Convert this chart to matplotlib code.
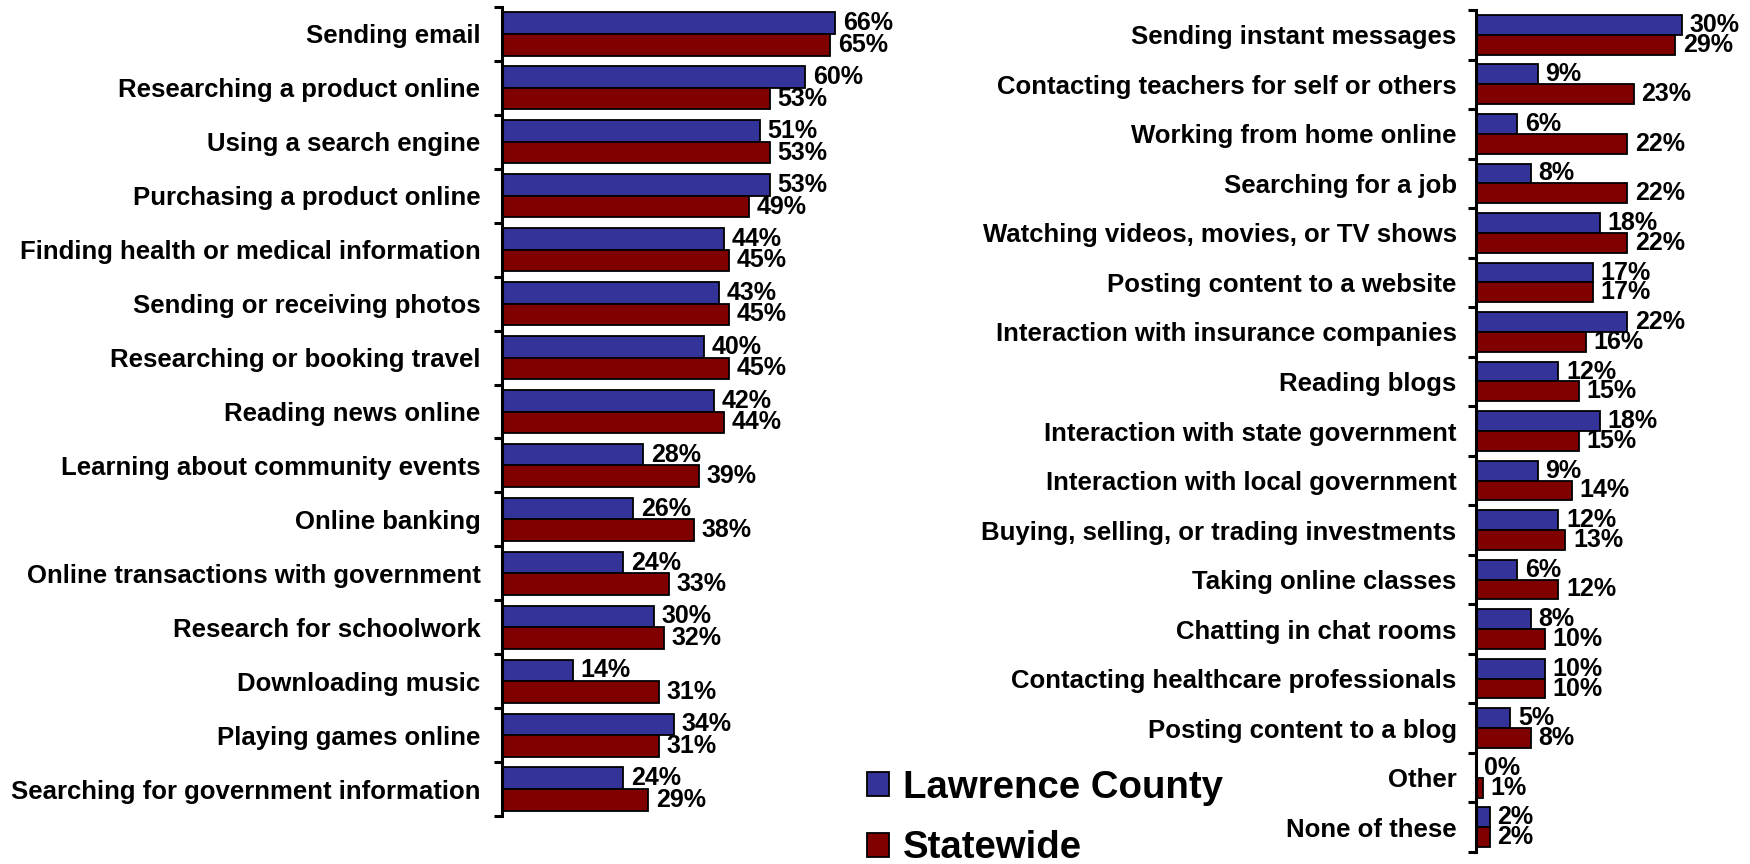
import matplotlib
matplotlib.use("Agg")
import matplotlib.pyplot as plt
from matplotlib.patches import Patch
import numpy as np

plt.rcParams['font.family'] = ['Liberation Sans', 'DejaVu Sans']
plt.rcParams['font.weight'] = 'bold'

left_categories = [
    "Sending email", "Researching a product online", "Using a search engine",
    "Purchasing a product online", "Finding health or medical information",
    "Sending or receiving photos", "Researching or booking travel",
    "Reading news online", "Learning about community events", "Online banking",
    "Online transactions with government", "Research for schoolwork",
    "Downloading music", "Playing games online",
    "Searching for government information",
]
left_county = [66, 60, 51, 53, 44, 43, 40, 42, 28, 26, 24, 30, 14, 34, 24]
left_state = [65, 53, 53, 49, 45, 45, 45, 44, 39, 38, 33, 32, 31, 31, 29]

right_categories = [
    "Sending instant messages", "Contacting teachers for self or others",
    "Working from home online", "Searching for a job",
    "Watching videos, movies, or TV shows", "Posting content to a website",
    "Interaction with insurance companies", "Reading blogs",
    "Interaction with state government", "Interaction with local government",
    "Buying, selling, or trading investments", "Taking online classes",
    "Chatting in chat rooms", "Contacting healthcare professionals",
    "Posting content to a blog", "Other", "None of these",
]
right_county = [30, 9, 6, 8, 18, 17, 22, 12, 18, 9, 12, 6, 8, 10, 5, 0, 2]
right_state = [29, 23, 22, 22, 22, 17, 16, 15, 15, 14, 13, 12, 10, 10, 8, 1, 2]

series_names = ["Lawrence County", "Statewide"]
BLUE = "#333399"
RED = "#800000"

W, H = 1750, 864
fig = plt.figure(figsize=(W / 100, H / 100), dpi=100)


def draw(ax, cats, county, state, xmax, label_pad):
    n = len(cats)
    y = np.arange(n)
    h = 0.4
    ax.barh(y - h / 2, county, height=h, color=BLUE, edgecolor="black", linewidth=1.3)
    ax.barh(y + h / 2, state, height=h, color=RED, edgecolor="black", linewidth=1.3)
    for yi, v in zip(y - h / 2, county):
        ax.annotate(f"{v}%", (v, yi), xytext=(5.5, 0), textcoords="offset points",
                    ha="left", va="center", fontsize=18, fontweight="bold",
                    annotation_clip=False)
    for yi, v in zip(y + h / 2, state):
        ax.annotate(f"{v}%", (v, yi), xytext=(5.5, 0), textcoords="offset points",
                    ha="left", va="center", fontsize=18, fontweight="bold",
                    annotation_clip=False)
    ax.set_xlim(0, xmax)
    ax.set_ylim(n - 0.5, -0.5)
    ax.set_yticks(np.arange(n + 1) - 0.5)
    ax.set_yticklabels([])
    ax.set_yticks(y, minor=True)
    ax.set_yticklabels(cats, minor=True, fontsize=18.5, fontweight="bold")
    ax.tick_params(axis="y", which="major", length=6, width=2.2, direction="out")
    ax.tick_params(axis="y", which="minor", length=0, pad=label_pad)
    ax.xaxis.set_visible(False)
    for s in ("top", "right", "bottom"):
        ax.spines[s].set_visible(False)
    ax.spines["left"].set_linewidth(2.2)
    ax.patch.set_alpha(0)


axL = fig.add_axes([502 / W, (H - 816) / H, 353.5 / W, 809 / H])
draw(axL, left_categories, left_county, left_state, 70, 15.5)

axR = fig.add_axes([1476 / W, (H - 852) / H, 240.4 / W, 842 / H])
draw(axR, right_categories, right_county, right_state, 35, 14)

handles = [Patch(facecolor=BLUE, edgecolor="black", linewidth=1.3),
           Patch(facecolor=RED, edgecolor="black", linewidth=1.3)]
fig.legend(handles, series_names, loc="center left",
           bbox_to_anchor=(867 / W, (H - 818) / H), frameon=False,
           prop={"size": 27.6, "weight": "bold"},
           handlelength=0.58, handleheight=0.58, handletextpad=0.35,
           labelspacing=0.64, borderpad=0, borderaxespad=0)

fig.savefig("out.png", dpi=100)
